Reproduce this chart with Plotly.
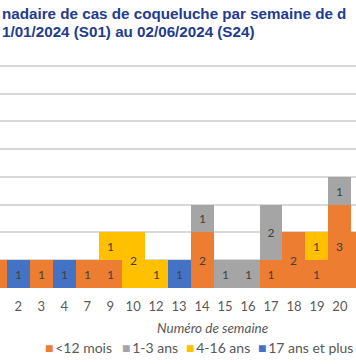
import plotly.graph_objects as go

# Week numbers (categories)
weeks = ["1", "2", "3", "4", "7", "9", "10", "12", "13", "14", "15", "16", "17", "18", "19", "20", "21"]

# Cases per age group
moins_12_mois = [1, 0, 1, 0, 1, 1, 0, 0, 0, 2, 0, 0, 1, 2, 1, 3, 2]
ans_1_3 =       [0, 0, 0, 0, 0, 0, 0, 0, 0, 1, 1, 1, 2, 0, 0, 1, 0]
ans_4_16 =      [0, 0, 0, 0, 0, 1, 2, 1, 0, 0, 0, 0, 0, 0, 1, 0, 0]
ans_17_plus =   [0, 1, 0, 1, 0, 0, 0, 0, 1, 0, 0, 0, 0, 0, 0, 0, 0]

series = [
    ("<12 mois", moins_12_mois, "#ED7D31"),
    ("1-3 ans", ans_1_3, "#A5A5A5"),
    ("4-16 ans", ans_4_16, "#FFC000"),
    ("17 ans et plus", ans_17_plus, "#4472C4"),
]

title_line1 = "nadaire de cas de coqueluche par semaine de d"
title_line2 = "1/01/2024 (S01) au 02/06/2024 (S24)"
x_title = "Numéro de semaine"

W, H = 356, 364
mt, mb = 63, 76
ph = H - mt - mb
x_range = [0.205, 15.70]

fig = go.Figure()
for name, vals, color in series:
    labels = [str(v) if (v and x_range[0] <= i <= x_range[1]) else "" for i, v in enumerate(vals)]
    fig.add_trace(go.Bar(
        x=weeks, y=vals, name=name,
        marker=dict(color=color, line=dict(width=0)),
        text=labels,
        textposition="inside", insidetextanchor="middle", textangle=0,
        constraintext="none",
        textfont=dict(family="Lato, Open Sans, sans-serif", size=12, color="#404040"),
        showlegend=False,
    ))

def py(ypix):
    return (H - mb - ypix) / ph

annotations = [
    dict(text=f"<b>{title_line1}</b>", x=0, xanchor="left", y=py(13.5), yanchor="middle"),
    dict(text=f"<b>{title_line2}</b>", x=0, xanchor="left", y=py(31.5), yanchor="middle"),
]
for a in annotations:
    a.update(xref="paper", yref="paper", showarrow=False,
             font=dict(family="Liberation Sans, Arial, sans-serif", size=15.2, color="#233C8E"))

annotations.append(dict(text=f"<i>{x_title}</i>", xref="paper", yref="paper",
                        x=212.5 / W, xanchor="center", y=py(328), yanchor="middle",
                        showarrow=False,
                        font=dict(family="Lato, Open Sans, sans-serif", size=13.5, color="#595959")))

legend_x = [43, 120, 184, 256]
for (name, vals, color), lx in zip(series, legend_x):
    label = name.replace("<", "&lt;")
    annotations.append(dict(
        text=f"<span style='color:{color}'>■</span>&#8201;{label}",
        xref="paper", yref="paper", x=lx / W, xanchor="left", y=py(347), yanchor="middle",
        showarrow=False,
        font=dict(family="Lato, Open Sans, sans-serif", size=14, color="#595959")))

fig.update_layout(
    width=W, height=H,
    margin=dict(l=0, r=0, t=mt, b=mb, pad=0, autoexpand=False),
    barmode="stack", bargap=0,
    plot_bgcolor="white", paper_bgcolor="white",
    annotations=annotations,
    xaxis=dict(type="category", range=x_range, showgrid=False, zeroline=False,
               showline=False, ticks="", automargin=False, ticklabelstandoff=9,
               tickfont=dict(family="Lato, Open Sans, sans-serif", size=13, color="#595959")),
    yaxis=dict(range=[0, 8.1], dtick=1, showgrid=True, gridcolor="#D9D9D9", gridwidth=1.5,
               zeroline=False, showticklabels=False, showline=False, automargin=False),
)

fig.write_html("out.html", config={"displayModeBar": False},
               post_script="document.body.style.margin='0';document.body.style.overflow='hidden';")
